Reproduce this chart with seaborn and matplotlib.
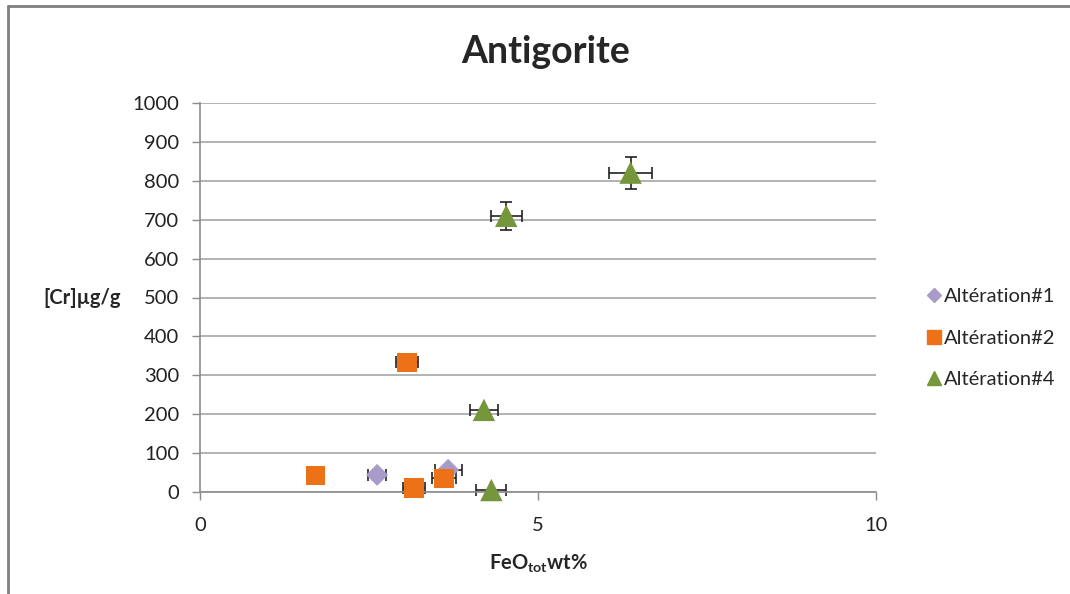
import pandas as pd
import matplotlib
matplotlib.use('Agg')
import matplotlib.pyplot as plt
import seaborn as sns
from matplotlib.lines import Line2D

# Données
serie = ['Altération#1', 'Altération#1',
         'Altération#2', 'Altération#2', 'Altération#2', 'Altération#2',
         'Altération#4', 'Altération#4', 'Altération#4', 'Altération#4']
feo = [2.62, 3.67, 1.71, 3.06, 3.17, 3.61, 4.20, 4.31, 4.53, 6.37]
cr = [44, 57, 42, 333, 10, 35, 211, 5, 710, 821]
err_feo = [0.13, 0.2, 0.0, 0.16, 0.16, 0.18, 0.21, 0.22, 0.23, 0.32]
err_cr = [0, 0, 0, 0, 0, 0, 0, 0, 36, 41]

df = pd.DataFrame({'Série': serie, 'FeO': feo, 'Cr': cr,
                   'errx': err_feo, 'erry': err_cr})

couleurs = {'Altération#1': '#a99bc9', 'Altération#2': '#ed7117', 'Altération#4': '#76963b'}
marqueurs = {'Altération#1': 'D', 'Altération#2': 's', 'Altération#4': '^'}
tailles = {'Altération#1': 125, 'Altération#2': 200, 'Altération#4': 260}

sns.set_style('white')
plt.rcParams['font.family'] = ['Lato', 'DejaVu Sans']

fig = plt.figure(figsize=(10.7, 5.94), dpi=100)
ax = fig.add_axes([200 / 1070, 1 - 492 / 594, 676 / 1070, 389 / 594])

# Barres d'erreur (dessinées sous les marqueurs)
for _, r in df.iterrows():
    if r['errx'] > 0 or r['erry'] > 0:
        eb = ax.errorbar(r['FeO'], r['Cr'],
                         xerr=r['errx'] if r['errx'] > 0 else None,
                         yerr=r['erry'] if r['erry'] > 0 else None,
                         fmt='none', ecolor='#222222', elinewidth=1.2,
                         capsize=4, capthick=1.2, zorder=2)
        for art in eb.lines[1] + eb.lines[2]:
            art.set_clip_on(False)

for s in ['Altération#1', 'Altération#2', 'Altération#4']:
    sub = df[df['Série'] == s]
    sns.scatterplot(x=sub['FeO'], y=sub['Cr'], marker=marqueurs[s],
                    color=couleurs[s], s=tailles[s], edgecolor='none',
                    ax=ax, zorder=3, clip_on=False)

ax.set_xlim(0, 10)
ax.set_ylim(0, 1000)
ax.set_xticks([0, 5, 10])
ax.set_yticks(range(0, 1001, 100))
ax.tick_params(axis='both', labelsize=14.5, length=6, width=1,
               direction='out', left=True, bottom=True,
               colors='#8c8c8c', labelcolor='#222222')
ax.tick_params(axis='y', pad=9)
ax.tick_params(axis='x', pad=12)
ax.grid(axis='y', color='#a6a6a6', linewidth=1.2)
ax.grid(axis='x', visible=False)
for sp in ['top', 'right']:
    ax.spines[sp].set_visible(False)
for sp in ['left', 'bottom']:
    ax.spines[sp].set_color('#8c8c8c')
    ax.spines[sp].set_linewidth(1.2)

ax.set_xlabel('FeO$_{\\mathregular{tot}}$wt%', fontsize=14.5, fontweight='bold')
ax.set_ylabel('[Cr]µg/g', fontsize=14.5, fontweight='bold', rotation=0,
              ha='right', va='center')
ax.yaxis.set_label_coords(-0.117, 0.5)
ax.xaxis.set_label_coords(0.5, -0.155)
fig.text(546 / 1070, 1 - 52 / 594, 'Antigorite', fontsize=27, fontweight='bold',
         ha='center', va='center')

# Légende
poignees = [Line2D([], [], linestyle='none', marker=marqueurs[s], color=couleurs[s],
                   markersize={'D': 7, 's': 10, '^': 10}[marqueurs[s]])
            for s in ['Altération#1', 'Altération#2', 'Altération#4']]
fig.legend(poignees, ['Altération#1', 'Altération#2', 'Altération#4'],
           loc='center left', bbox_to_anchor=(906 / 1070, 1 - 338 / 594),
           frameon=False, fontsize=14.5, handletextpad=0.0, labelspacing=1.2,
           handlelength=1.0)

# Cadre du graphique
fig.add_artist(Line2D([8 / 1070, 8 / 1070], [0, 1 - 6 / 594], color='#808080',
                      linewidth=2, transform=fig.transFigure))
fig.add_artist(Line2D([8 / 1070, 1], [1 - 6 / 594, 1 - 6 / 594], color='#808080',
                      linewidth=2, transform=fig.transFigure))

fig.savefig('out.png', dpi=100)
